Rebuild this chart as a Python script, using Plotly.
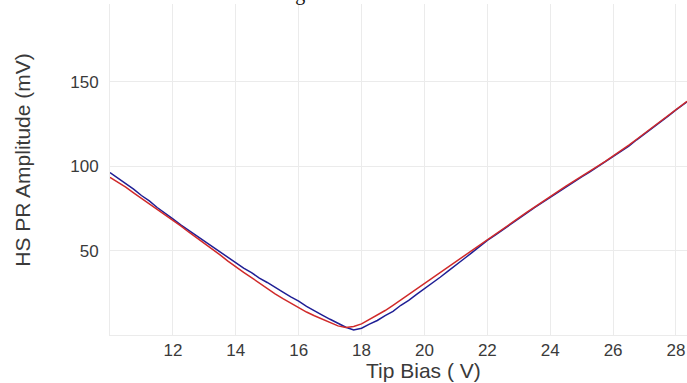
import plotly.graph_objects as go

bias_v = [10.00, 10.25, 10.50, 10.75, 11.00, 11.25, 11.50, 11.75, 12.00, 12.25,
          12.50, 12.75, 13.00, 13.25, 13.50, 13.75, 14.00, 14.25, 14.50, 14.75,
          15.00, 15.25, 15.50, 15.75, 16.00, 16.25, 16.50, 16.75, 17.00, 17.25,
          17.50, 17.75, 18.00, 18.25, 18.50, 18.75, 19.00, 19.25, 19.50, 19.75,
          20.00, 20.25, 20.50, 20.75, 21.00, 21.25, 21.50, 21.75, 22.00, 22.25,
          22.50, 22.75, 23.00, 23.25, 23.50, 23.75, 24.00, 24.25, 24.50, 24.75,
          25.00, 25.25, 25.50, 25.75, 26.00, 26.25, 26.50, 26.75, 27.00, 27.25,
          27.50, 27.75, 28.00, 28.25, 28.35]

blue_mv = [96.2, 93.1, 89.6, 86.4, 82.6, 79.4, 75.5, 72.3, 68.7, 65.2,
           62.0, 58.4, 55.5, 52.1, 49.0, 45.6, 42.8, 39.6, 36.9, 33.7,
           31.1, 28.0, 25.4, 22.6, 20.1, 17.0, 14.6, 11.8, 9.3, 6.9,
           4.6, 3.0, 4.0, 6.4, 8.6, 11.5, 14.0, 17.6, 20.5, 24.0,
           27.3, 30.6, 34.2, 37.8, 41.2, 45.0, 48.6, 52.5, 56.0, 59.1,
           62.5, 65.6, 69.0, 72.2, 75.4, 78.5, 81.6, 84.4, 87.7, 90.5,
           93.6, 96.4, 99.5, 102.4, 105.4, 108.7, 111.9, 115.6, 119.0, 122.8,
           126.2, 129.6, 133.3, 136.6, 138.0]

red_mv = [93.4, 90.6, 87.5, 84.2, 81.0, 77.9, 74.5, 71.4, 68.0, 64.6,
          61.0, 57.7, 54.3, 50.6, 47.4, 43.7, 40.2, 37.1, 34.0, 30.6,
          27.6, 24.3, 21.5, 18.7, 16.0, 13.6, 11.4, 9.3, 7.2, 5.4,
          4.5, 5.0, 6.6, 9.1, 11.8, 14.5, 17.6, 20.8, 24.0, 27.3,
          30.5, 33.6, 36.9, 40.2, 43.5, 46.8, 50.0, 53.3, 56.4, 59.6,
          62.8, 66.1, 69.3, 72.6, 75.6, 78.9, 82.0, 85.0, 88.2, 91.0,
          94.1, 96.9, 99.9, 102.8, 105.9, 109.0, 112.4, 115.9, 119.4, 123.1,
          126.6, 130.2, 133.8, 137.0, 138.4]

x_ticks = [12, 14, 16, 18, 20, 22, 24, 26, 28]
y_ticks = [50, 100, 150]

GRID = "#ebebeb"
TXT = "#3a3a3a"

fig = go.Figure()
fig.add_trace(go.Scatter(x=bias_v, y=blue_mv, mode="lines",
                         line=dict(color="#1f1f95", width=1.5), showlegend=False))
fig.add_trace(go.Scatter(x=bias_v, y=red_mv, mode="lines",
                         line=dict(color="#d02a2a", width=1.5), showlegend=False))

fig.update_layout(
    width=687, height=383,
    margin=dict(l=110, r=0, t=4, b=48),
    paper_bgcolor="white", plot_bgcolor="white",
    font=dict(family="Liberation Sans, Arial, sans-serif", color=TXT),
    xaxis=dict(range=[10, 28.35], tickvals=x_ticks, showgrid=True, gridcolor=GRID,
               gridwidth=1, zeroline=False, showline=True, linecolor=GRID,
               linewidth=1, ticks="", ticklabelstandoff=0,
               tickfont=dict(size=17, color=TXT)),
    yaxis=dict(range=[0, 196], tickvals=y_ticks, showgrid=True, gridcolor=GRID,
               gridwidth=1, zeroline=False, showline=True, linecolor=GRID,
               linewidth=1, ticks="", ticklabelstandoff=7,
               tickfont=dict(size=17, color=TXT)),
    annotations=[
        dict(text="HS PR Amplitude (mV)", xref="paper", yref="paper",
             x=-0.151, y=0.529, textangle=-90, showarrow=False,
             font=dict(size=21, color=TXT), xanchor="center", yanchor="middle"),
        dict(text="Tip Bias ( V)", xref="paper", yref="paper",
             x=0.544, y=-0.106, showarrow=False,
             font=dict(size=21, color=TXT), xanchor="center", yanchor="middle"),
        dict(text="PR Tuning Data", xref="paper", yref="paper",
             x=0.30, y=0.99, showarrow=False,
             font=dict(size=20, color="#111111",
                       family="Liberation Serif, Times New Roman, serif"),
             xanchor="center", yanchor="bottom"),
    ],
)

fig.write_html("out.html")
